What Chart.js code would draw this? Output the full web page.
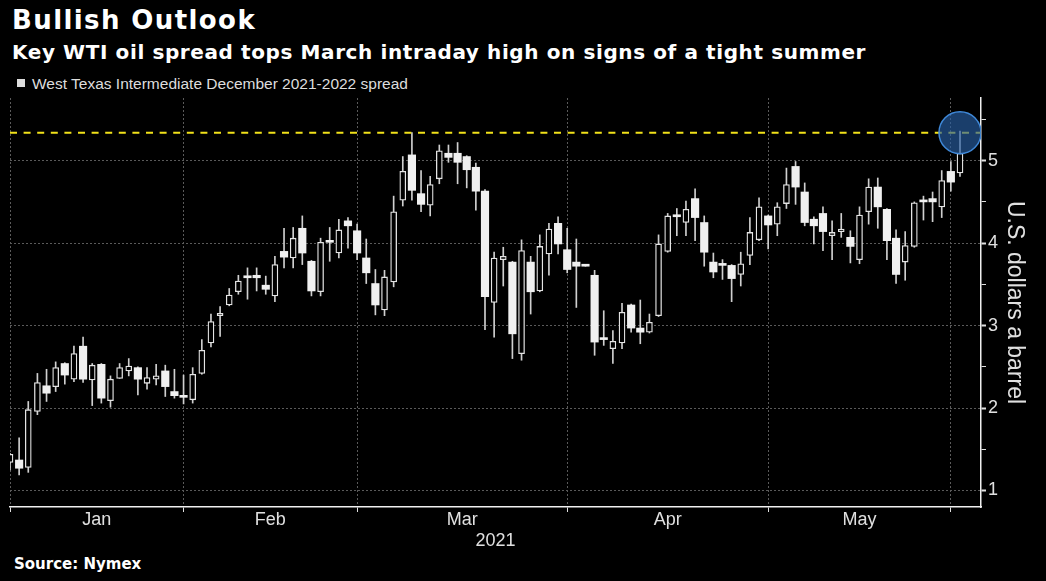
<!DOCTYPE html>
<html>
<head>
<meta charset="utf-8">
<script src="https://cdn.jsdelivr.net/npm/chart.js@4.4.1/dist/chart.umd.min.js"></script>
<style>
  body { margin: 0; background: #000; }
  #wrap { position: relative; width: 1046px; height: 581px; overflow: hidden; background: #000; }
  #c { position: absolute; left: 0; top: 0; }
  .t { position: absolute; white-space: nowrap; line-height: 1; color: #fff; }
  #title { left: 12px; top: 5px; font: bold 26px "DejaVu Sans", sans-serif; letter-spacing: 1.4px; }
  #sub { left: 12px; top: 40px; font: bold 20px "DejaVu Sans", sans-serif; letter-spacing: 0.6px; }
  #legend { left: 32px; top: 75px; font: 15.5px "Liberation Sans", Arial, sans-serif; color: #ddd; }
  #sq { position: absolute; left: 17px; top: 79px; width: 8px; height: 8px; background: #ddd; }
  #source { left: 14px; top: 555px; font: bold 15px "DejaVu Sans", sans-serif; }
</style>
</head>
<body>
<div id="wrap">
  <div class="t" id="title">Bullish Outlook</div>
  <div class="t" id="sub">Key WTI oil spread tops March intraday high on signs of a tight summer</div>
  <div id="sq"></div>
  <div class="t" id="legend">West Texas Intermediate December 2021-2022 spread</div>
  <div class="t" id="source">Source: Nymex</div>
  <canvas id="c" width="1046" height="581"></canvas>
</div>
<script>
// WTI Dec21-Dec22 spread, daily candles, Jan 4 - Jun 2 2021 (one entry per trading day)
const opens = [
  1.34, 1.37, 1.28, 1.96, 2.27, 2.26, 2.54, 2.35, 2.75, 2.34, 2.53, 2.09, 2.36, 2.45, 2.49, 2.30, 2.35, 2.45, 2.20,
  2.15, 2.10, 2.42, 2.79, 3.12, 3.25, 3.41, 3.59, 3.61, 3.49, 3.36, 3.90, 3.82, 4.18, 3.78, 3.41, 4.03, 3.88, 4.27,
  4.15, 3.82, 3.51, 3.19, 3.53, 4.52, 5.07, 4.60, 4.46, 4.78, 5.09, 5.09, 5.05, 4.92, 4.63, 3.28, 3.80, 3.77, 2.66, 3.77, 3.42, 3.87, 4.24,
  3.92, 3.77, 3.73, 3.61, 2.84, 2.72, 2.79, 3.25, 2.97, 2.92, 3.12, 3.90, 4.33, 4.25, 4.54, 4.25, 3.77, 3.75, 3.73, 3.62, 3.85, 4.04,
  4.33, 4.23, 4.48, 4.93, 4.62, 4.29, 4.36, 4.09, 4.14, 4.07, 3.80, 4.38, 4.68, 4.41, 4.06, 3.77, 3.96, 4.51, 4.54, 4.44,
  4.87, 4.85
];
const highs = [
  1.45, 1.64, 2.08, 2.42, 2.47, 2.56, 2.55, 2.75, 2.86, 2.54, 2.54, 2.39, 2.54, 2.60, 2.50, 2.49, 2.53, 2.52, 2.47,
  2.40, 2.49, 2.83, 3.14, 3.23, 3.45, 3.61, 3.70, 3.70, 3.60, 3.84, 4.18, 4.19, 4.33, 3.79, 4.06, 4.19, 4.29, 4.31,
  4.23, 4.05, 3.68, 3.67, 4.57, 5.05, 5.34, 4.88, 4.81, 5.19, 5.19, 5.22, 5.06, 4.97, 4.65, 3.89, 3.95, 3.78, 4.04, 3.84, 4.10, 4.24, 4.32,
  4.18, 4.05, 3.73, 3.67, 3.18, 2.94, 3.27, 3.26, 3.31, 3.14, 4.10, 4.36, 4.42, 4.51, 4.66, 4.33, 3.88, 3.80, 3.74, 3.89, 4.31, 4.55,
  4.34, 4.49, 4.91, 4.99, 4.73, 4.32, 4.44, 4.27, 4.36, 4.15, 4.44, 4.78, 4.79, 4.42, 4.16, 4.14, 4.50, 4.57, 4.62, 4.88,
  4.99, 5.36
];
const lows = [
  1.25, 1.19, 1.22, 1.92, 2.08, 2.20, 2.29, 2.32, 2.31, 2.03, 2.06, 2.01, 2.36, 2.39, 2.16, 2.23, 2.28, 2.14, 2.12,
  2.05, 2.06, 2.41, 2.74, 2.87, 3.24, 3.38, 3.32, 3.42, 3.38, 3.29, 3.70, 3.70, 3.74, 3.36, 3.36, 3.78, 3.82, 3.94,
  3.80, 3.51, 3.13, 3.12, 3.47, 4.45, 4.52, 4.38, 4.33, 4.72, 4.98, 4.72, 4.67, 4.40, 2.95, 2.86, 3.48, 2.60, 2.58, 3.14, 3.41, 3.61, 3.87,
  3.64, 3.22, 3.72, 2.64, 2.76, 2.54, 2.72, 2.92, 2.78, 2.91, 3.11, 3.89, 4.09, 4.09, 4.03, 3.72, 3.58, 3.56, 3.29, 3.48, 3.74, 4.03,
  3.93, 4.09, 4.42, 4.47, 4.21, 3.99, 3.91, 3.80, 4.07, 3.76, 3.75, 4.23, 4.18, 3.80, 3.51, 3.55, 3.95, 4.28, 4.26, 4.31,
  4.63, 4.81
];
const closes = [
  1.44, 1.27, 1.98, 2.31, 2.18, 2.49, 2.40, 2.66, 2.35, 2.52, 2.12, 2.35, 2.49, 2.51, 2.35, 2.37, 2.39, 2.26, 2.15,
  2.13, 2.41, 2.70, 3.05, 3.15, 3.37, 3.54, 3.58, 3.58, 3.44, 3.74, 3.83, 4.06, 3.88, 3.42, 4.01, 4.01, 4.16, 4.21,
  3.88, 3.64, 3.25, 3.59, 4.38, 4.87, 4.64, 4.47, 4.71, 5.12, 5.04, 4.98, 4.89, 4.63, 3.35, 3.82, 3.84, 2.90, 3.91, 3.41, 3.96, 4.17, 3.99,
  3.68, 3.72, 3.72, 2.80, 2.83, 2.81, 3.16, 2.97, 2.92, 3.04, 3.99, 4.33, 4.32, 4.41, 4.31, 3.89, 3.65, 3.73, 3.57, 3.75, 4.13, 4.44,
  4.22, 4.44, 4.71, 4.68, 4.25, 4.21, 4.14, 4.13, 4.17, 3.96, 4.34, 4.68, 4.44, 4.03, 3.62, 3.97, 4.49, 4.50, 4.50, 4.76,
  4.74, 5.09
];
const monthLabels = ['Jan', 'Feb', 'Mar', 'Apr', 'May'];
const monthStarts = [0, 19, 38, 61, 83, 103]; // first trading day of each month, Jun 1 last
const yearLabel = '2021';
const yTicks = [1, 2, 3, 4, 5];

const axisFont = '"Liberation Sans", Arial, sans-serif';
const xMax = 106.3;

// the March intraday high, and where the spread broke it
const marchHigh = Math.max(...highs.slice(monthStarts[2], monthStarts[3]));
const lastIdx = closes.length - 1;

const idx = closes.map((_, i) => i);
const wicks = idx.map(i => ({ x: i, y: [lows[i], highs[i]] }));
const upBodies = idx.filter(i => closes[i] > opens[i]).map(i => ({ x: i, y: [opens[i], closes[i]] }));
const downBodies = idx.filter(i => closes[i] <= opens[i]).map(i => ({ x: i, y: [closes[i], opens[i]] }));

// keep chart.js from adding label overflow padding, the plot area is fixed
const noPad = s => { s.paddingLeft = 0; s.paddingRight = 0; s.paddingTop = 0; s.paddingBottom = 0; };

new Chart(document.getElementById('c'), {
  type: 'bar',
  data: {
    datasets: [
      {
        type: 'line', data: [{ x: lastIdx, y: marchHigh }], showLine: false,
        pointRadius: 21, pointHoverRadius: 21,
        pointBackgroundColor: 'rgba(40, 95, 165, 0.65)', pointBorderColor: '#3f88d8', pointBorderWidth: 1.5,
        clip: 0, order: 0
      },
      {
        type: 'line', data: [{ x: 0, y: marchHigh }, { x: xMax, y: marchHigh }],
        borderColor: '#f2e21a', borderWidth: 2, borderDash: [7, 6.6], pointRadius: 0, order: 1
      },
      {
        data: upBodies, backgroundColor: '#000', borderColor: '#e4e4e4', borderWidth: 1.3,
        borderSkipped: false, barThickness: 6, minBarLength: 2, grouped: false, clip: 0, order: 2
      },
      {
        data: downBodies, backgroundColor: '#f0f0f0', borderWidth: 0,
        barThickness: 7.5, minBarLength: 2, grouped: false, clip: 0, order: 2
      },
      {
        data: wicks, backgroundColor: '#cfcfcf', barThickness: 1, grouped: false, clip: 0, order: 3
      }
    ]
  },
  options: {
    responsive: false,
    animation: false,
    events: [],
    layout: { autoPadding: false, padding: { left: 10, top: 98, right: 0, bottom: 29 } },
    plugins: { legend: { display: false }, tooltip: { enabled: false } },
    scales: {
      x: {
        type: 'linear', position: 'bottom', min: 0, max: xMax, offset: false, weight: 0,
        afterBuildTicks: s => { s.ticks = monthStarts.map(v => ({ value: v })); },
        afterFit: s => { s.height = 4; noPad(s); },
        ticks: { display: false },
        grid: { offset: false, color: '#5a5a5a', tickColor: '#e0e0e0', tickLength: 5 },
        border: { display: true, color: '#f0f0f0', width: 1.5, dash: [2, 2] }
      },
      xl: {
        type: 'linear', axis: 'x', position: 'bottom', min: 0, max: xMax, offset: false, weight: 1,
        afterBuildTicks: s => {
          s.ticks = monthLabels.map((_, k) => ({ value: (monthStarts[k] + monthStarts[k + 1]) / 2 }));
        },
        afterFit: s => { s.height = 41; noPad(s); },
        ticks: {
          color: '#e0e0e0', font: { family: axisFont, size: 18, lineHeight: 1 }, padding: 0,
          maxRotation: 0, autoSkip: false, callback: (v, k) => monthLabels[k]
        },
        grid: { display: false, drawTicks: false, offset: false },
        border: { display: false },
        title: { display: true, text: yearLabel, color: '#e0e0e0', font: { family: axisFont, size: 18 }, padding: 0 }
      },
      y: {
        position: 'right', min: 0.8, max: 5.76, bounds: 'data',
        afterBuildTicks: s => { s.ticks = yTicks.flatMap(v => [{ value: v }, { value: v + 0.5 }]); },
        afterFit: s => { s.width = 65; noPad(s); },
        ticks: {
          color: '#e0e0e0', font: { family: axisFont, size: 18 }, padding: 2, autoSkip: false,
          callback: v => Number.isInteger(v) ? String(v) : ''
        },
        grid: {
          color: c => Number.isInteger(c.tick.value) ? '#5a5a5a' : 'rgba(0,0,0,0)',
          tickColor: '#e0e0e0', tickLength: 5,
          tickWidth: c => Number.isInteger(c.tick.value) ? 2 : 1
        },
        border: { display: true, color: '#f0f0f0', width: 1.5, dash: [2, 2] },
        title: {
          display: true, text: 'U.S. dollars a barrel', color: '#e0e0e0',
          font: { family: axisFont, size: 23 }, padding: { top: 18, bottom: 0 }
        }
      }
    }
  }
});
</script>
</body>
</html>
